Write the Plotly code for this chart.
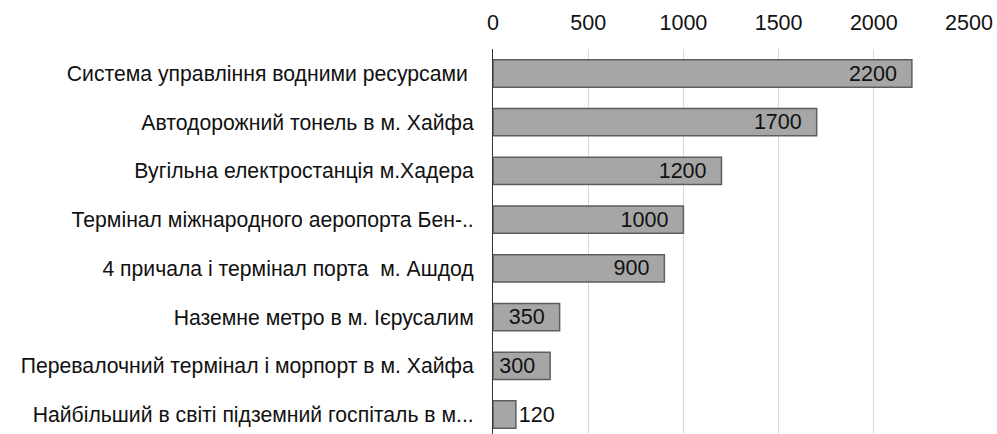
import plotly.graph_objects as go

categories = [
    "Система управління водними ресурсами ",
    "Автодорожний тонель в м. Хайфа",
    "Вугільна електростанція м.Хадера",
    "Термінал міжнародного аеропорта Бен-..",
    "4 причала і термінал порта  м. Ашдод",
    "Наземне метро в м. Ієрусалим",
    "Перевалочний термінал і морпорт в м. Хайфа",
    "Найбільший в світі підземний госпіталь в м...",
]
values = [2200, 1700, 1200, 1000, 900, 350, 300, 120]
x_ticks = [0, 500, 1000, 1500, 2000, 2500]

text_pos = ["inside"] * (len(values) - 1) + ["outside"]
labels = [str(v) + "\u00a0\u00a0" if p == "inside" else str(v) for v, p in zip(values, text_pos)]

FONT = "Liberation Sans, Arial, sans-serif"

fig = go.Figure(
    go.Bar(
        x=values,
        y=categories,
        orientation="h",
        text=labels,
        textposition=text_pos,
        insidetextanchor="end",
        textfont=dict(family=FONT, size=21.5, color="#111111"),
        outsidetextfont=dict(family=FONT, size=21.5, color="#111111"),
        marker=dict(color="#a6a6a6", line=dict(color="#5e5e5e", width=1.5)),
        constraintext="none",
        cliponaxis=False,
        hoverinfo="skip",
    )
)

fig.update_layout(
    width=997,
    height=434,
    margin=dict(l=493, r=28, t=49, b=0),
    paper_bgcolor="white",
    plot_bgcolor="white",
    bargap=0.44,
    showlegend=False,
    font=dict(family=FONT, size=21, color="#111111"),
    xaxis=dict(
        side="top",
        range=[0, 2500],
        tickvals=x_ticks,
        ticktext=[str(t) for t in x_ticks],
        showgrid=True,
        gridcolor="#d9d9d9",
        gridwidth=1,
        zeroline=False,
        showline=False,
        ticks="",
        ticklabelstandoff=14,
        tickfont=dict(size=21.5, color="#111111"),
        automargin=False,
    ),
    yaxis=dict(
        categoryorder="array",
        categoryarray=categories,
        range=[7.40, -0.503],
        showgrid=False,
        zeroline=False,
        showline=True,
        linecolor="#333333",
        linewidth=1,
        ticks="",
        ticklabelstandoff=14,
        tickfont=dict(size=21.2, color="#111111"),
        automargin=False,
    ),
)

fig.write_html(
    "out.html",
    config={"displayModeBar": False},
    post_script="document.body.style.margin='0';document.body.style.overflow='hidden';",
)
